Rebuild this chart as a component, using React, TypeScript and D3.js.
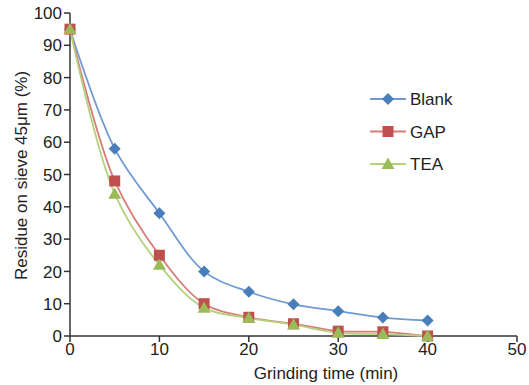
import React from "react";
import * as d3 from "d3";

const times = [0, 5, 10, 15, 20, 25, 30, 35, 40];
const blank = [95, 58, 38, 20, 13.7, 9.8, 7.7, 5.7, 4.8];
const gap = [95, 48, 25, 10, 5.8, 3.8, 1.5, 1.3, 0];
const tea = [95, 44, 22, 8.7, 5.6, 3.5, 1, 0.6, 0];
const xTicks = [0, 10, 20, 30, 40, 50];
const yTicks = [0, 10, 20, 30, 40, 50, 60, 70, 80, 90, 100];
const seriesNames = ["Blank", "GAP", "TEA"];
const colors = ["#4a7ebb", "#c0504d", "#9bbb59"];
const lineColors = ["#6f9bd3", "#d97b78", "#b5d17e"];

export default function App() {
  const W = 529, H = 385;
  const x = d3.scaleLinear().domain([0, 50]).range([70, 517]);
  const y = d3.scaleLinear().domain([0, 100]).range([336, 13]);
  const data = [blank, gap, tea];
  const line = d3
    .line<[number, number]>()
    .x((d) => x(d[0]))
    .y((d) => y(d[1]))
    .curve(d3.curveCatmullRom.alpha(0.5));
  const font = "'Liberation Sans', Arial, sans-serif";

  const marker = (i: number, cx: number, cy: number, key: string) => {
    if (i === 0) {
      const s = 6;
      return (
        <path key={key} d={`M${cx},${cy - s}L${cx + s},${cy}L${cx},${cy + s}L${cx - s},${cy}Z`} fill={colors[0]} />
      );
    }
    if (i === 1) {
      const s = 5.5;
      return <rect key={key} x={cx - s} y={cy - s} width={2 * s} height={2 * s} fill={colors[1]} />;
    }
    const s = 6.5;
    return (
      <path key={key} d={`M${cx},${cy - s}L${cx + s},${cy + s * 0.75}L${cx - s},${cy + s * 0.75}Z`} fill={colors[2]} />
    );
  };

  const legendY = [99, 131.5, 164];

  return (
    <svg width={W} height={H} style={{ position: "absolute", left: 0, top: 0, background: "#fff" }} fontFamily={font}>
      <line x1={70} y1={y(100)} x2={70} y2={y(0)} stroke="#333" strokeWidth={1.5} />
      <line x1={70} y1={y(0)} x2={x(50)} y2={y(0)} stroke="#333" strokeWidth={1.5} />
      {yTicks.map((t) => (
        <g key={"y" + t}>
          <line x1={64} x2={70} y1={y(t)} y2={y(t)} stroke="#333" strokeWidth={1.5} />
          <text x={62} y={y(t)} dy="0.36em" textAnchor="end" fontSize={17} fill="#222">
            {t}
          </text>
        </g>
      ))}
      {xTicks.map((t) => (
        <g key={"x" + t}>
          <line x1={x(t)} x2={x(t)} y1={y(0)} y2={y(0) + 6} stroke="#333" strokeWidth={1.5} />
          <text x={x(t)} y={355} textAnchor="middle" fontSize={17} fill="#222">
            {t}
          </text>
        </g>
      ))}
      <text x={326} y={379} textAnchor="middle" fontSize={17} fill="#222">
        Grinding time (min)
      </text>
      <text transform={`translate(27,175.5) rotate(-90)`} textAnchor="middle" fontSize={17} fill="#222">
        Residue on sieve 45μm (%)
      </text>
      {data.map((vals, i) => (
        <path
          key={"l" + i}
          d={line(times.map((t, j) => [t, vals[j]] as [number, number])) || ""}
          fill="none"
          stroke={lineColors[i]}
          strokeWidth={1.8}
        />
      ))}
      {data.map((vals, i) => times.map((t, j) => marker(i, x(t), y(vals[j]), `m${i}-${j}`)))}
      {seriesNames.map((n, i) => (
        <g key={"lg" + i}>
          <line x1={370} x2={406} y1={legendY[i]} y2={legendY[i]} stroke={lineColors[i]} strokeWidth={1.8} />
          {marker(i, 388, legendY[i], "lm" + i)}
          <text x={410} y={legendY[i]} dy="0.36em" fontSize={17} fill="#222">
            {n}
          </text>
        </g>
      ))}
    </svg>
  );
}
